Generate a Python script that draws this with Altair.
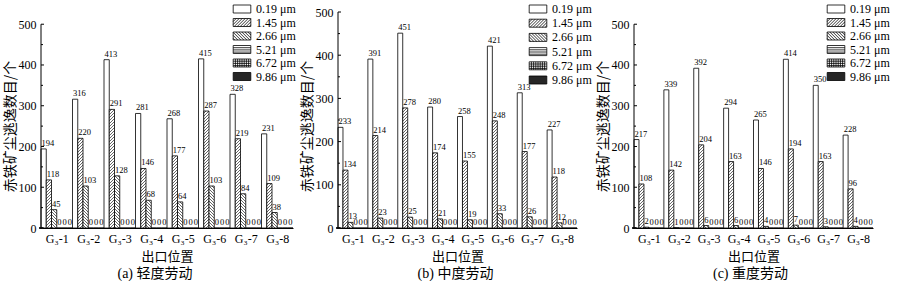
import math
import altair as alt
import pandas as pd

# ---------------- data ----------------
groups = ["G₃-1", "G₃-2", "G₃-3", "G₃-4", "G₃-5", "G₃-6", "G₃-7", "G₃-8"]
sizes = ["0.19 μm", "1.45 μm", "2.66 μm", "5.21 μm", "6.72 μm", "9.86 μm"]
panel_titles = ["(a) 轻度劳动", "(b) 中度劳动", "(c) 重度劳动"]
y_title = "赤铁矿尘逃逸数目/个"
x_title = "出口位置"
y_major = [0, 100, 200, 300, 400, 500]
y_minor = [50, 150, 250, 350, 450]

light_019 = [194, 316, 413, 281, 268, 415, 328, 231]
light_145 = [118, 220, 291, 146, 177, 287, 219, 109]
light_266 = [45, 103, 128, 68, 64, 103, 84, 38]
light_521 = [0, 0, 0, 0, 0, 0, 0, 0]
light_672 = [0, 0, 0, 0, 0, 0, 0, 0]
light_986 = [0, 0, 0, 0, 0, 0, 0, 0]

moderate_019 = [233, 391, 451, 280, 258, 421, 313, 227]
moderate_145 = [134, 214, 278, 174, 155, 248, 177, 118]
moderate_266 = [13, 23, 25, 21, 19, 33, 26, 12]
moderate_521 = [0, 0, 0, 0, 0, 0, 0, 0]
moderate_672 = [0, 0, 0, 0, 0, 0, 0, 0]
moderate_986 = [0, 0, 0, 0, 0, 0, 0, 0]

heavy_019 = [217, 339, 392, 294, 265, 414, 350, 228]
heavy_145 = [108, 142, 204, 163, 146, 194, 163, 96]
heavy_266 = [2, 1, 6, 6, 4, 7, 3, 4]
heavy_521 = [0, 0, 0, 0, 0, 0, 0, 0]
heavy_672 = [0, 0, 0, 0, 0, 0, 0, 0]
heavy_986 = [0, 0, 0, 0, 0, 0, 0, 0]

panel_values = [
    [light_019, light_145, light_266, light_521, light_672, light_986],
    [moderate_019, moderate_145, moderate_266, moderate_521, moderate_672, moderate_986],
    [heavy_019, heavy_145, heavy_266, heavy_521, heavy_672, heavy_986],
]

# ---------------- styling ----------------
SERIF = "Liberation Serif, Times New Roman, serif"
CJK = "Noto Sans CJK SC"
MIXED = "Liberation Serif, Noto Sans CJK SC"
hatch_kinds = ["none", "/", "\\", "-", "+", "dark"]
legend_fills = ["white", "white", "white", "white", "white", "#262626"]
legend_strokes = ["black", "black", "black", "black", "black", "black"]

PLOT_H = 216
widths = [252, 239, 239]
ymaxs = [530, 500, 530]
title_dx = [-12, -2, -3]
legend_xy = [(195, -9), (194, -9), (196, -9)]
legend_rowpad = [1.5, 2.2, 1.5]


def hatch_segments(kind, u0, u1, T, p=3.0, q=2.0):
    segs = []
    if T <= 0:
        return segs
    if kind == "/":
        k0 = math.ceil(-u1 / p)
        k1 = math.floor((T - u0) / p)
        for k in range(k0, k1 + 1):
            c = k * p
            ua, ub = max(u0, -c), min(u1, T - c)
            if ub - ua > 0.05:
                segs.append((ua, ua + c, ub, ub + c))
    elif kind == "\\":
        k0 = math.ceil(u0 / p)
        k1 = math.floor((T + u1) / p)
        for k in range(k0, k1 + 1):
            c = k * p
            ua, ub = max(u0, c - T), min(u1, c)
            if ub - ua > 0.05:
                segs.append((ua, c - ua, ub, c - ub))
    if kind in ("-", "+"):
        t = q
        while t < T:
            segs.append((u0, t, u1, t))
            t += q
    if kind == "+":
        u = math.ceil(u0 / q) * q
        while u < u1:
            segs.append((u, 0, u, T))
            u += q
    return segs


def symbol_path(kind, hw=2.2, hh=1.0, p=0.75, q=0.55):
    parts = [f"M{-hw},{-hh}H{hw}V{hh}H{-hw}Z"]
    if kind == "/":
        c = -hw - hh + p
        while c < hw + hh:
            xa, xb = max(-hw, c - hh), min(hw, c + hh)
            if xb - xa > 0.02:
                parts.append(f"M{xa:.3f},{c - xa:.3f}L{xb:.3f},{c - xb:.3f}")
            c += p
    elif kind == "\\":
        c = -hw - hh + p
        while c < hw + hh:
            xa, xb = max(-hw, -hh - c), min(hw, hh - c)
            if xb - xa > 0.02:
                parts.append(f"M{xa:.3f},{xa + c:.3f}L{xb:.3f},{xb + c:.3f}")
            c += p
    if kind in ("-", "+"):
        y = -hh + q
        while y < hh - 0.05:
            parts.append(f"M{-hw},{y:.3f}H{hw}")
            y += q
    if kind == "+":
        x = -hw + q
        while x < hw - 0.05:
            parts.append(f"M{x:.3f},{-hh}V{hh}")
            x += q
    return "".join(parts)


legend_paths = [symbol_path(k) for k in hatch_kinds]


def make_panel(pi):
    vals = panel_values[pi]
    W = widths[pi]
    ymax = ymaxs[pi]
    pxx = W / len(groups)
    pxy = PLOT_H / ymax

    rows, hrows = [], []
    for i, g in enumerate(groups):
        for j, s in enumerate(sizes):
            v = vals[j][i]
            x0 = i + j / len(sizes)
            x1 = i + (j + 1) / len(sizes)
            rows.append(dict(group=g, series=s, x0=x0, x1=x1, value=v, base=0, label=str(v)))
            for (ua, ta, ub, tb) in hatch_segments(hatch_kinds[j], x0 * pxx, x1 * pxx, v * pxy):
                hrows.append(dict(hx0=ua / pxx, hy0=ta / pxy, hx1=ub / pxx, hy1=tb / pxy))
    bars = pd.DataFrame(rows)
    hatch = pd.DataFrame(hrows)

    xscale = alt.Scale(domain=[0, len(groups)], nice=False, zero=False)
    yscale = alt.Scale(domain=[0, ymax], nice=False, zero=True)

    label_expr = "[" + ",".join(f"'{g}'" for g in groups) + "][floor(datum.value)]"

    x_axis = alt.Axis(
        values=[i + 0.5 for i in range(len(groups))], labelExpr=label_expr,
        ticks=False, grid=False, domain=True, domainColor="black", domainWidth=1,
        labelFont=SERIF, labelFontSize=12, labelColor="black", labelPadding=5,
        labelAngle=0, title=x_title, titleFont=CJK, titleFontSize=13,
        titleFontWeight="normal", titleColor="black", titlePadding=6,
    )
    y_axis = alt.Axis(
        values=y_major, ticks=False, grid=False, domain=False,
        labelFont=SERIF, labelFontSize=12, labelColor="black", labelPadding=5,
        title=y_title, titleFont=CJK, titleFontSize=14, titleFontWeight="normal",
        titleColor="black", titlePadding=1, titleY=114,
    )

    def X(field):
        return alt.X(field, scale=xscale, axis=x_axis)

    def Y(field):
        return alt.Y(field, scale=yscale, axis=y_axis)

    bar_layer = alt.Chart(bars).mark_rect(fill="white", stroke="black", strokeWidth=0.8).encode(
        x=X("x0:Q"), x2="x1:Q", y=Y("value:Q"), y2="base:Q",
    )
    hatch_layer = alt.Chart(hatch).mark_rule(stroke="black", strokeWidth=0.6).encode(
        x=X("hx0:Q"), x2="hx1:Q", y=Y("hy0:Q"), y2="hy1:Q",
    )
    text_layer = alt.Chart(bars).mark_text(
        align="left", baseline="bottom", dx=0.5, dy=-1, font=SERIF, fontSize=8.5, color="black"
    ).encode(x=X("x0:Q"), y=Y("value:Q"), text="label:N")

    axis_df = pd.DataFrame({"x": [0], "lo": [y_major[0]], "hi": [y_major[-1]]})
    axis_line = alt.Chart(axis_df).mark_rule(stroke="black", strokeWidth=1).encode(
        x=X("x:Q"), y=Y("lo:Q"), y2="hi:Q"
    )
    tick_df = pd.DataFrame({
        "v": y_major + y_minor,
        "x": [0] * (len(y_major) + len(y_minor)),
        "xe": [3 / pxx] * len(y_major) + [2 / pxx] * len(y_minor),
    })
    tick_layer = alt.Chart(tick_df).mark_rule(stroke="black", strokeWidth=1).encode(
        y=Y("v:Q"), x=X("x:Q"), x2="xe:Q"
    )
    lx, ly = legend_xy[pi]
    leg = alt.Legend(
        title=None, orient="none", legendX=lx, legendY=ly, padding=0,
        labelFont=SERIF, labelFontSize=12, labelColor="black", labelOffset=8,
        symbolSize=64, symbolStrokeColor="black", symbolStrokeWidth=0.8,
        symbolOpacity=1, rowPadding=legend_rowpad[pi],
    )
    legend_layer = alt.Chart(pd.DataFrame({"series": sizes, "x": [0] * len(sizes), "y": [0] * len(sizes)})).mark_point(
        filled=True, strokeWidth=0.5, size=1, opacity=1
    ).encode(
        x=X("x:Q"), y=Y("y:Q"),
        fill=alt.Fill("series:N", scale=alt.Scale(domain=sizes, range=legend_fills), legend=leg, sort=sizes),
        stroke=alt.Stroke("series:N", scale=alt.Scale(domain=sizes, range=legend_strokes), legend=leg, sort=sizes),
        shape=alt.Shape("series:N", scale=alt.Scale(domain=sizes, range=legend_paths), legend=leg, sort=sizes),
    )

    return alt.layer(
        bar_layer, hatch_layer, text_layer, axis_line, tick_layer, legend_layer
    ).properties(
        width=W, height=PLOT_H,
        title=alt.TitleParams(
            text=panel_titles[pi], orient="bottom", anchor="middle", font=MIXED,
            fontSize=14, fontWeight="normal", color="black", offset=4, dx=title_dx[pi],
        ),
    )


chart = alt.hconcat(make_panel(0), make_panel(1), make_panel(2), spacing=4).resolve_scale(
    x="independent", y="independent", fill="independent", shape="independent", stroke="independent"
).resolve_legend(fill="independent", shape="independent", stroke="independent").properties(
    padding={"left": 3, "top": 3, "right": 0, "bottom": 0}
).configure_view(stroke=None)

chart.save("out.html", embed_options={"renderer": "svg", "actions": False})
